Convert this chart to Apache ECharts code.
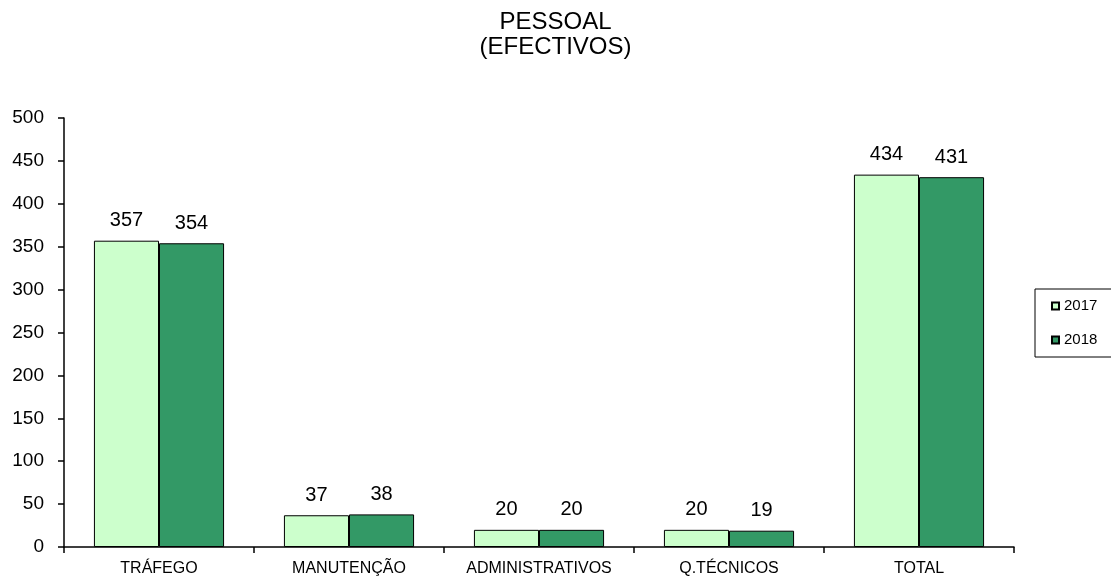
<!DOCTYPE html>
<html>
<head>
<meta charset="utf-8">
<script src="https://cdn.jsdelivr.net/npm/echarts@6/dist/echarts.min.js"></script>
<style>
  html, body { margin: 0; padding: 0; background: #fff; }
  #chart { width: 1111px; height: 582px; }
</style>
</head>
<body>
<div id="chart"></div>
<script>
var categories = ['TRÁFEGO', 'MANUTENÇÃO', 'ADMINISTRATIVOS', 'Q.TÉCNICOS', 'TOTAL']
var values2017 = [357, 37, 20, 20, 434]
var values2018 = [354, 38, 20, 19, 431]
var yTicks = { min: 0, max: 500, interval: 50 }

var chart = echarts.init(document.getElementById('chart'))
var font = 'Liberation Sans, Arial, sans-serif'

function makeSeries(name, data, color) {
  return {
    name: name,
    type: 'bar',
    data: data,
    barGap: '0%',
    barCategoryGap: '31.5%',
    itemStyle: { color: color, borderColor: '#000', borderWidth: 1 },
    label: {
      show: true,
      position: 'top',
      distance: 10,
      color: '#000',
      fontFamily: font,
      fontSize: 20
    }
  }
}

chart.setOption({
  animation: false,
  title: {
    text: 'PESSOAL\n(EFECTIVOS)',
    left: 'center',
    top: 5,
    textStyle: {
      fontFamily: font,
      fontSize: 24,
      fontWeight: 'normal',
      color: '#000',
      lineHeight: 25
    }
  },
  legend: {
    orient: 'vertical',
    left: 1035,
    top: 289,
    padding: [9, 40, 9, 16],
    borderColor: '#000',
    borderWidth: 1,
    itemWidth: 7,
    itemHeight: 7,
    itemGap: 18,
    textStyle: { fontFamily: font, fontSize: 15, lineHeight: 16, color: '#000' },
    data: [
      { name: '2017', icon: 'rect' },
      { name: '2018', icon: 'rect' }
    ]
  },
  grid: { left: 64, right: 97, top: 118, bottom: 35 },
  xAxis: {
    type: 'category',
    data: categories,
    axisLine: { lineStyle: { color: '#000', width: 1.5 } },
    axisTick: { show: true, length: 6, lineStyle: { color: '#000', width: 1.5 } },
    axisLabel: { color: '#000', fontFamily: font, fontSize: 16, margin: 14 }
  },
  yAxis: {
    type: 'value',
    min: yTicks.min,
    max: yTicks.max,
    interval: yTicks.interval,
    splitLine: { show: false },
    axisLine: { show: true, lineStyle: { color: '#000', width: 1.5 } },
    axisTick: { show: true, length: 6, lineStyle: { color: '#000', width: 1.5 } },
    axisLabel: { color: '#000', fontFamily: font, fontSize: 19, margin: 20 }
  },
  series: [
    makeSeries('2017', values2017, '#ccffcc'),
    makeSeries('2018', values2018, '#339966')
  ]
})
</script>
</body>
</html>
